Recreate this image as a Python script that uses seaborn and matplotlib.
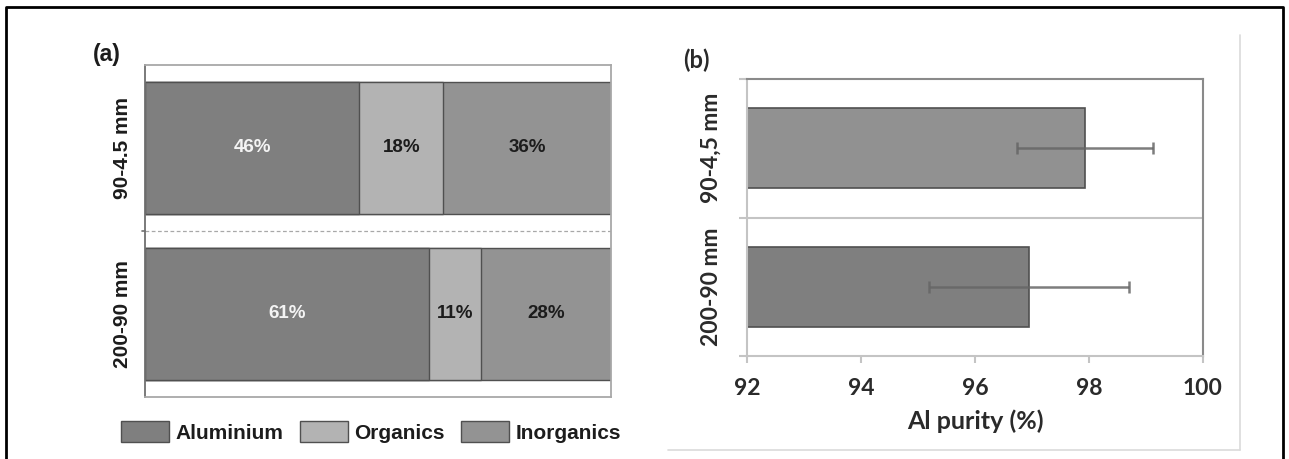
import numpy as np
import pandas as pd
import matplotlib
matplotlib.use("Agg")
import matplotlib.pyplot as plt
from matplotlib.lines import Line2D
import seaborn as sns

# (a) composition of the two size fractions (%)
fractions = ["90-4.5 mm", "200-90 mm"]
aluminium = [46, 61]
organics = [18, 11]
inorganics = [36, 28]
components = ["Aluminium", "Organics", "Inorganics"]
component_colors = ["#7f7f7f", "#b3b3b3", "#939393"]
label_colors = ["#f4f4f4", "#1c1c1c", "#1c1c1c"]

# (b) aluminium purity of the same fractions
purity_fractions = ["90-4,5 mm", "200-90 mm"]
purity_mean = [97.93, 96.95]
purity_err = [1.20, 1.76]
purity_colors = ["#919191", "#7f7f7f"]
purity_ticks = [92, 94, 96, 98, 100]

sns.set_theme(style="white")
plt.rcParams["font.family"] = ["Liberation Sans", "DejaVu Sans"]

W, H = 1289, 459
fig = plt.figure(figsize=(W / 100, H / 100), dpi=100)


def box(x0, y0, x1, y1):
    return [x0 / W, 1 - y1 / H, (x1 - x0) / W, (y1 - y0) / H]


ax_a = fig.add_axes(box(145, 65, 611, 397))
ax_b = fig.add_axes(box(747, 79, 1203, 356))

# ---------- (a) stacked composition bars ----------
comp = pd.DataFrame({"fraction": fractions, "Aluminium": aluminium,
                     "Organics": organics, "Inorganics": inorganics})
cum = comp[components].cumsum(axis=1)
cum["fraction"] = comp["fraction"]

# widest cumulative layer first, narrower layers painted on top
for name, color in reversed(list(zip(components, component_colors))):
    sns.barplot(data=cum, x=name, y="fraction", orient="y", color=color,
                saturation=1, width=0.8, edgecolor="#505050", linewidth=1.0,
                label=name, ax=ax_a)

for name, lc in zip(components, label_colors):
    left = cum[name] - comp[name]
    for i, (l, v) in enumerate(zip(left, comp[name])):
        ax_a.text(l + v / 2, i, f"{v}%", ha="center", va="center",
                  color=lc, fontsize=13.5, fontweight="bold")

ax_a.set_xlim(0, 100)
ax_a.set_ylim(1.5, -0.5)
ax_a.set_xlabel("")
ax_a.set_ylabel("")
ax_a.set_xticks([])
ax_a.set_yticks(range(len(fractions)))
ax_a.set_yticklabels(fractions, rotation=90, va="center", fontsize=15,
                     fontweight="bold", color="#1c1c1c")
ax_a.tick_params(axis="y", length=0, pad=9)
ax_a.axhline(0.5, color="#a8a8a8", lw=0.9, ls=(0, (3, 2)))
ax_a.plot([-0.6, 0], [0.5, 0.5], color="#707070", lw=1.2, clip_on=False)
for side, sp in ax_a.spines.items():
    sp.set_visible(True)
    sp.set_color("#707070" if side == "left" else "#a8a8a8")
    sp.set_linewidth(1.3)

handles, labels = ax_a.get_legend_handles_labels()
if ax_a.get_legend() is not None:
    ax_a.get_legend().remove()
order = [labels.index(c) for c in components]
fig.legend([handles[i] for i in order], [labels[i] for i in order],
           loc="center", bbox_to_anchor=(371 / W, 1 - 432 / H), ncol=3,
           frameon=False, prop={"weight": "bold", "size": 15},
           handlelength=2.3, handleheight=1.15, handletextpad=0.3,
           columnspacing=0.8, labelcolor="#1c1c1c")
fig.text(93 / W, 1 - 55 / H, "(a)", fontsize=16.5, fontweight="bold",
         va="center", ha="left", color="#1c1c1c")

# ---------- (b) purity bars with error bars ----------
lato = ["Lato", "DejaVu Sans"]
pur = pd.DataFrame({"fraction": purity_fractions, "purity": purity_mean,
                    "err": purity_err})
sns.barplot(data=pur, x="purity", y="fraction", hue="fraction",
            palette=purity_colors, orient="y", saturation=1, width=0.58,
            edgecolor="#505050", linewidth=1.2, legend=False, ax=ax_b)
ax_b.errorbar(pur["purity"], np.arange(len(pur)), xerr=pur["err"], fmt="none",
              ecolor="#666666", elinewidth=1.8, capsize=4.3, capthick=1.8,
              alpha=0.85)

ax_b.set_xlim(92, 100)
ax_b.set_ylim(1.5, -0.5)
ax_b.set_xticks(purity_ticks)
ax_b.set_xticklabels([str(t) for t in purity_ticks], family=lato,
                     fontweight="bold", fontsize=16.5, color="#2a2a2a")
ax_b.set_yticks(range(len(purity_fractions)))
ax_b.set_yticklabels(purity_fractions, rotation=90, va="center", family=lato,
                     fontweight="bold", fontsize=16.5, color="#2a2a2a")
ax_b.set_yticks([-0.5, 0.5, 1.5], minor=True)
ax_b.tick_params(axis="y", which="major", length=0, pad=18)
ax_b.tick_params(axis="y", which="minor", left=True, length=6,
                 color="#c4c4c4", width=1.5)
ax_b.tick_params(axis="x", bottom=True, length=5, color="#c4c4c4",
                 width=1.5, pad=11)
ax_b.set_xlabel("Al purity (%)", family=lato, fontweight="bold", fontsize=18,
                color="#2a2a2a", labelpad=7)
ax_b.set_ylabel("")
ax_b.axhline(0.5, color="#c4c4c4", lw=1.5)
for side, sp in ax_b.spines.items():
    sp.set_visible(True)
    sp.set_color("#8a8a8a" if side in ("top", "right") else "#c4c4c4")
    sp.set_linewidth(1.5)
fig.text(683 / W, 1 - 60 / H, "(b)", family=lato, fontsize=17,
         fontweight="bold", va="center", ha="left", color="#2a2a2a")

# chart-area border of panel (b) and outer figure frame
fig.add_artist(Line2D([1240 / W, 1240 / W], [1 - 35 / H, 1 - 450 / H],
                      color="#dadada", lw=1.2))
fig.add_artist(Line2D([668 / W, 1240 / W], [1 - 450 / H, 1 - 450 / H],
                      color="#dadada", lw=1.2))
fig.add_artist(Line2D([6 / W, 6 / W, 1283 / W, 1283 / W],
                      [0, 1 - 7 / H, 1 - 7 / H, 0], color="black", lw=2))

fig.savefig("out.png", dpi=100)
